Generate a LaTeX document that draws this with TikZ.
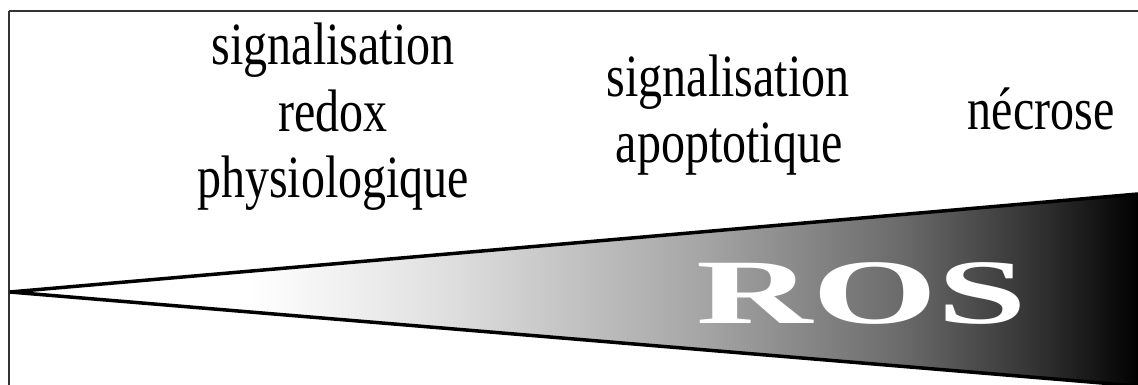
\documentclass[tikz,border=0pt]{standalone}
\usepackage{fontspec}
\setmainfont{Liberation Serif}
\newfontfamily\labelfont[FakeStretch=0.8]{Liberation Serif}
\newfontfamily\rosfont[FakeStretch=1.75]{Liberation Serif}
\begin{document}
\begin{tikzpicture}[x=1pt,y=-1pt,
  frameline/.style={line width=1.6pt, draw=black!80},
  wedgeline/.style={line width=3.5pt, draw=black},
  caption/.style={font=\labelfont\fontsize{60}{66}\selectfont, anchor=base, inner sep=0pt},
  rostext/.style={font=\rosfont\bfseries\fontsize{92}{92}\selectfont, text=white, anchor=base, inner sep=0pt}]
  \useasboundingbox (0,0) rectangle (1138,385);
  \clip (0,0) rectangle (1138,385);
  \fill[white] (0,0) rectangle (1138,385);

  % open frame (top and left sides)
  \draw[frameline] (9,11) -- (1160,11);
  \draw[frameline] (9,11) -- (9,400);

  % wedge corners
  \coordinate (tip) at (10,292);
  \coordinate (tr) at (1138,194);
  \coordinate (br) at (1138,386);

  % graded fill of the wedge, white to black
  \begin{scope}
    \clip (tip) -- (tr) -- (br) -- cycle;
    \fill[white] (0,150) rectangle (250,400);
    \shade[left color=white, right color=black!12] (250,150) rectangle (440,400);
    \shade[left color=black!12, right color=black!35] (440,150) rectangle (700,400);
    \shade[left color=black!35, right color=black!58] (700,150) rectangle (900,400);
    \shade[left color=black!58, right color=black!81] (900,150) rectangle (1040,400);
    \shade[left color=black!81, right color=black] (1040,150) rectangle (1140,400);
  \end{scope}

  \draw[wedgeline] (tip) -- (tr);
  \draw[wedgeline] (tip) -- (br);

  \node[rostext] (ros) at (862,323) {ROS};

  \node[caption] (redox1) at (333,65) {signalisation};
  \node[caption] (redox2) at (333,132) {redox};
  \node[caption] (redox3) at (333,197) {physiologique};
  \node[caption] (apo1) at (728,97) {signalisation};
  \node[caption] (apo2) at (729,162) {apoptotique};
  \node[caption] (necro) at (1041,130) {nécrose};
\end{tikzpicture}
\end{document}
